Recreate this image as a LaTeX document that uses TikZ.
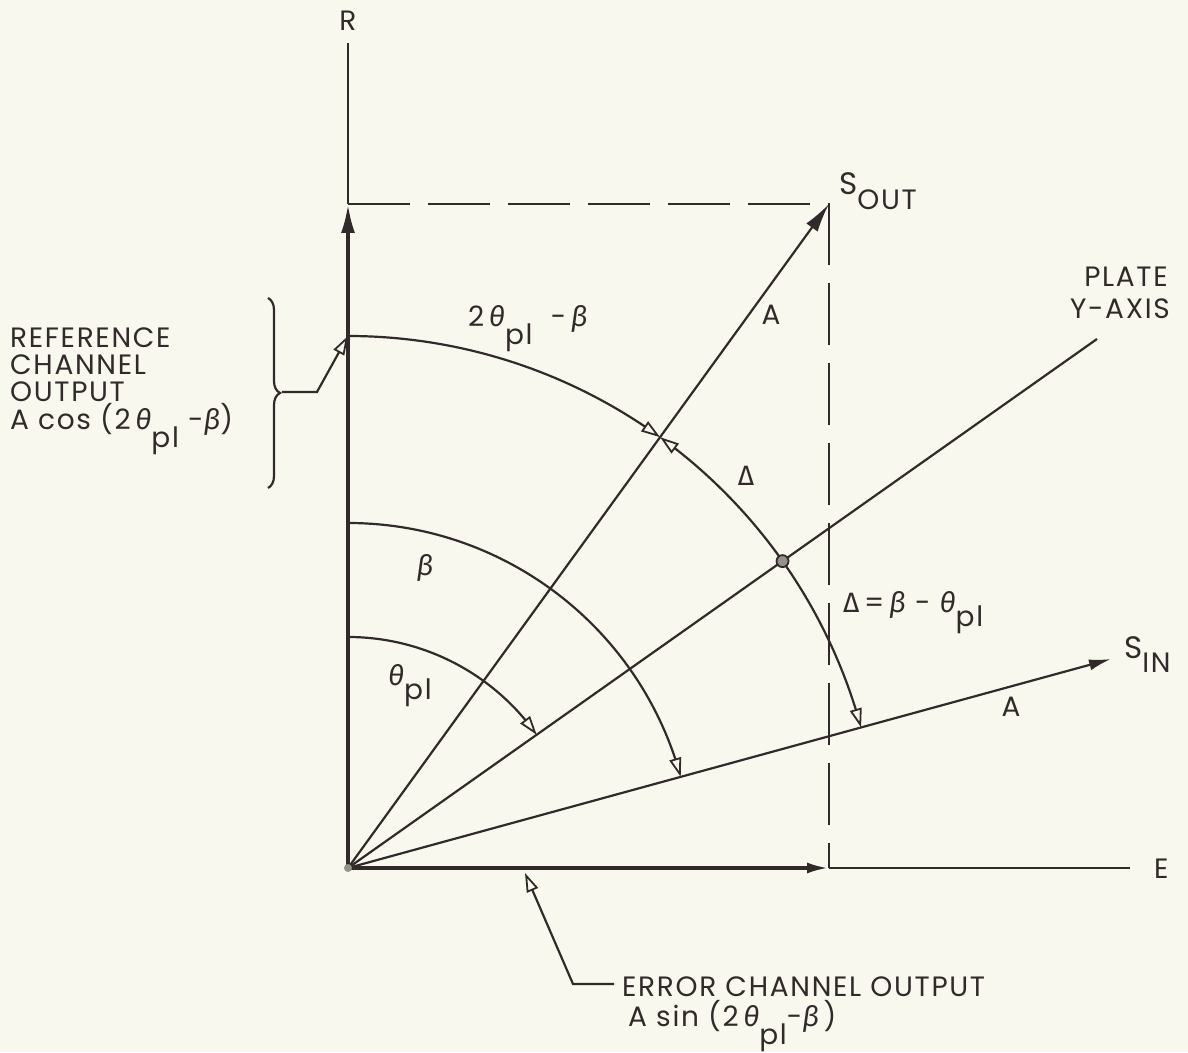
\documentclass[tikz,border=0pt]{standalone}
\usepackage{fontspec}
\setmainfont{Poppins}[LetterSpace=6]
\newfontfamily\grk{Fira Sans}
\usetikzlibrary{arrows.meta,bending,decorations.pathreplacing}
\definecolor{ink}{RGB}{50,42,42}
\definecolor{paper}{RGB}{248,248,238}
\definecolor{dotgray}{RGB}{150,145,140}
\newcommand\gth{{\grk\itshape θ}}
\newcommand\gbe{{\grk\itshape β}}
\newcommand\gDl{{\grk Δ}}
\newcommand\lowr[2][18pt]{\raisebox{-#1}{#2}}
\begin{document}
\begin{tikzpicture}[x=1pt,y=1pt,
  every node/.style={font=\fontsize{28}{32}\selectfont, text=ink, inner sep=0pt},
  ln/.style={line width=2.2pt, draw=ink},
  vecb/.style={line width=3.6pt, draw=ink},
  dsh/.style={line width=2.2pt, draw=ink, dash pattern=on 62pt off 18pt},
  arcarr/.style={ln, -{Triangle[open,length=19pt,width=12pt,line width=1.8pt]}},
  bigtip/.style={-{Latex[length=29pt,width=14pt]}},
  midtip/.style={-{Latex[length=22pt,width=11pt]}}]
\path[fill=paper] (-348,-184) rectangle (840,868);

% key points
\coordinate (O) at (0,0);
\coordinate (Rtop) at (0,825);
\coordinate (Rv) at (0,664);
\coordinate (Ev) at (481,0);
\coordinate (Eend) at (782,0);
\coordinate (Sout) at (481,664);
\coordinate (Sin) at (763,209);
\coordinate (Pl) at (749,529);
\coordinate (arcstart) at (90:532);

% axes and vectors
\draw[ln] (Rv) -- (Rtop);
\draw[ln] (Ev) -- (Eend);
\draw[dsh] (Rv) -- (Sout) -- (Ev);
\draw[vecb, bigtip] (O) -- (Rv);
\draw[vecb, midtip] (O) -- (Ev);
\draw[ln, bigtip] (O) -- (Sout);
\draw[ln] (O) -- (Pl);
\draw[ln, midtip] (O) -- (Sin);

% arcs
\draw[arcarr] (90:532) arc[start angle=90, end angle=54.08, radius=532];
\draw[arcarr] (35.23:532) arc[start angle=35.23, end angle=54.08, radius=532];
\draw[arcarr] (35.23:532) arc[start angle=35.23, end angle=15.32, radius=532];
\draw[arcarr] (90:345) arc[start angle=90, end angle=15.32, radius=345];
\draw[arcarr] (90:231) arc[start angle=90, end angle=35.23, radius=231];

% dots
\node[circle, draw=ink, fill=dotgray, minimum size=12pt, line width=1.8pt] (dot) at (35.23:532) {};
\node[circle, fill=dotgray, minimum size=8pt] (odot) at (O) {};

% axis labels
\node[anchor=base] (Rlab) at (0,837) {R};
\node[anchor=base west] (Elab) at (806,-10) {E};
\node[anchor=base west] (Soutlab) at (491,673) {{\fontsize{31}{34}\selectfont S}\lowr[15pt]{OUT}};
\node[anchor=base west] (Sinlab) at (776,209) {{\fontsize{31}{34}\selectfont S}\lowr[14pt]{IN}};
\node[anchor=base] (plab1) at (778,581) {PLATE};
\node[anchor=base] (plab2) at (772,549) {Y-AXIS};
\node (Aout) at (423,553) {A};
\node (Ain) at (663,161) {A};

% angle labels
\node[anchor=base west] (lab2tb) at (120,541) {2\,\gth\lowr{pl}\ \ -\,\gbe};
\node (dlab) at (398,392) {\gDl};
\node[anchor=base west] (eqlab) at (495,255) {\gDl\,=\,\gbe\ -\ \gth\lowr[14pt]{pl}};
\node (blab) at (77,300) {\gbe};
\node[anchor=base west] (tlab) at (40,182) {\gth\lowr[14pt]{pl}};

% reference channel output
\node[anchor=base west] (ref1) at (-338,520) {REFERENCE};
\node[anchor=base west] (ref2) at (-338,493) {CHANNEL};
\node[anchor=base west] (ref3) at (-338,466) {OUTPUT};
\node[anchor=base west] (ref4) at (-338,438) {A cos (2\,\gth\lowr{pl}\ -\gbe)};
\draw[ln, decorate, decoration={brace, amplitude=12pt}] (-80,570) -- (-80,380);
\coordinate (rl1) at (-66,476);
\coordinate (rl2) at (-31,476);
\draw[ln, -{Triangle[open,length=19pt,width=12pt,line width=1.8pt]}] (rl1) -- (rl2) -- (arcstart);

% error channel output
\node[anchor=base west] (err1) at (274,-128) {ERROR CHANNEL OUTPUT};
\node[anchor=base west] (err2) at (280,-158) {A sin (2\,\gth\lowr{pl}-\gbe\,)};
\coordinate (el0) at (266,-116);
\coordinate (el1) at (225,-116);
\coordinate (el2) at (177,-5);
\draw[ln, -{Triangle[open,length=19pt,width=12pt,line width=1.8pt]}] (el0) -- (el1) -- (el2);
\end{tikzpicture}
\end{document}
